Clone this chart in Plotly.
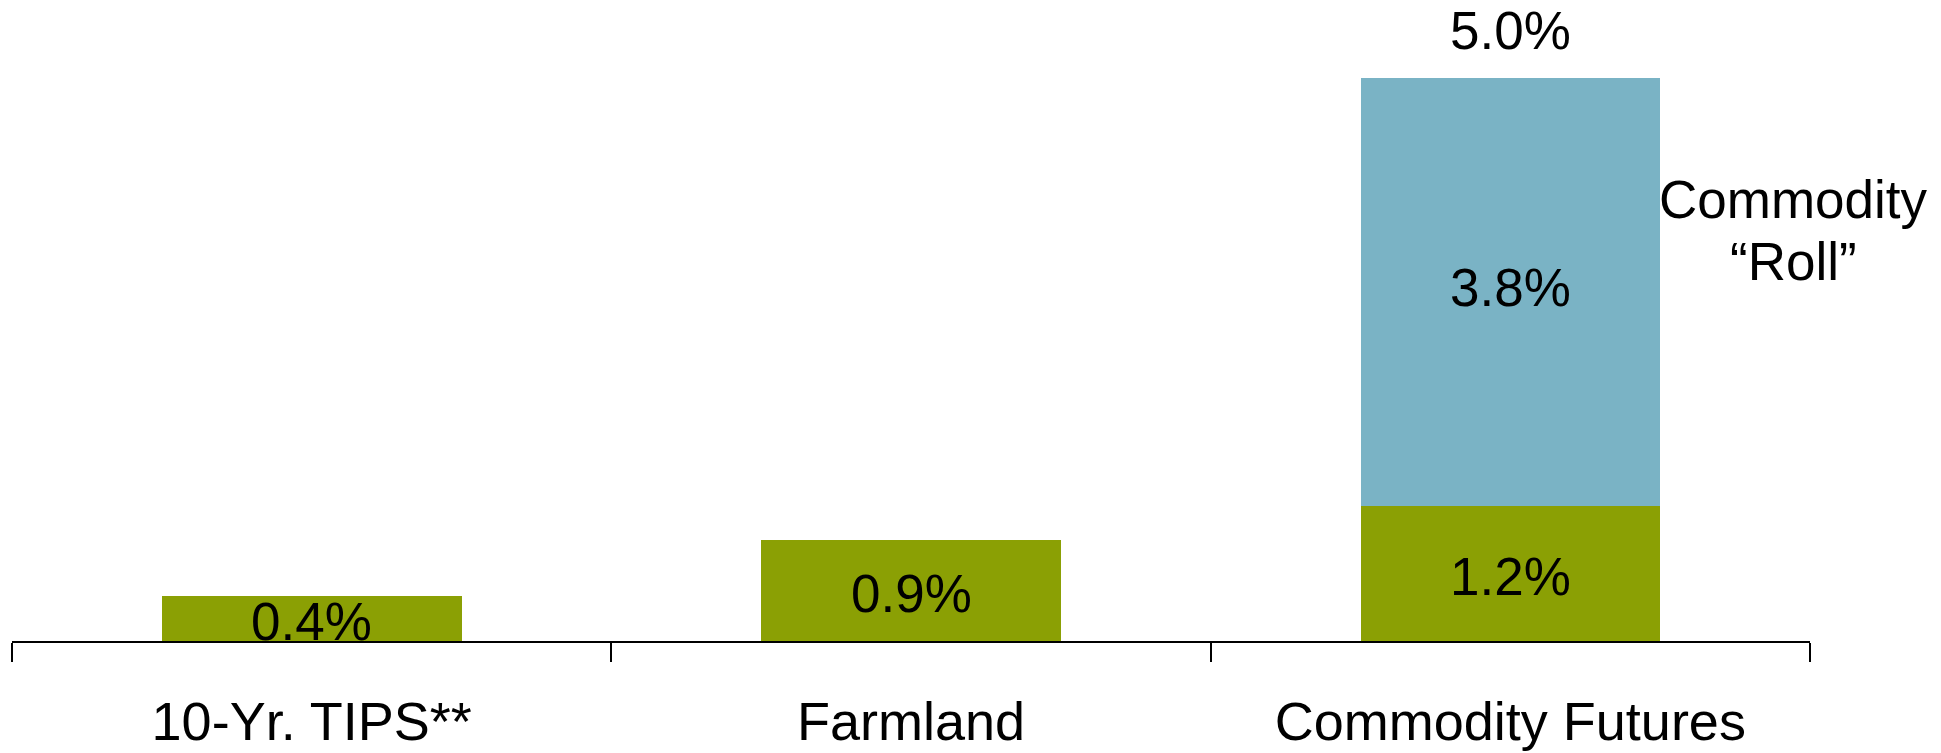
import plotly.graph_objects as go

# Real return components by asset (percent)
categories = ["10-Yr. TIPS**", "Farmland", "Commodity Futures"]
base_return = [0.4, 0.9, 1.2]
roll_return = [None, None, 3.8]
total_label_value = 5.0

GREEN = "#8BA004"
BLUE = "#7AB3C5"
FONT = "Liberation Sans, Arial, sans-serif"

fig = go.Figure()
fig.add_trace(go.Bar(x=categories, y=base_return, width=0.5,
                     marker=dict(color=GREEN, line=dict(width=0)),
                     hoverinfo="skip"))
fig.add_trace(go.Bar(x=categories, y=roll_return, width=0.5,
                     marker=dict(color=BLUE, line=dict(width=0)),
                     hoverinfo="skip"))

annotations = []
# Segment value labels centred in each block
for cat, b, r in zip(categories, base_return, roll_return):
    annotations.append(dict(x=cat, y=b / 2, text=f"{b:.1f}%", showarrow=False,
                            xanchor="center", yanchor="middle", yshift=-3,
                            font=dict(size=53, color="black", family=FONT)))
    if r:
        annotations.append(dict(x=cat, y=b + r / 2, text=f"{r:.1f}%", showarrow=False,
                                xanchor="center", yanchor="middle", yshift=4,
                                font=dict(size=53, color="black", family=FONT)))

# Total on top of the stacked bar
annotations.append(dict(x=categories[2], y=total_label_value, text=f"{total_label_value:.1f}%",
                        showarrow=False, xanchor="center", yanchor="bottom", yshift=16,
                        font=dict(size=53, color="black", family=FONT)))

# Label for the roll component
annotations.append(dict(x=2.473, y=3.92, text="Commodity", showarrow=False,
                        xanchor="center", yanchor="middle",
                        font=dict(size=53, color="black", family=FONT)))
annotations.append(dict(x=2.473, y=3.37, text="\u201cRoll\u201d", showarrow=False,
                        xanchor="center", yanchor="middle",
                        font=dict(size=53, color="black", family=FONT)))

fig.update_layout(
    width=1941, height=753,
    margin=dict(l=12, r=131, t=0, b=112),
    barmode="stack", bargap=0.5,
    showlegend=False,
    plot_bgcolor="white", paper_bgcolor="white",
    annotations=annotations,
    xaxis=dict(type="category", range=[-0.5, 2.5],
               showline=True, linecolor="black", linewidth=2,
               ticks="outside", tickson="boundaries", ticklen=19,
               tickcolor="black", tickwidth=1.5,
               showgrid=False, zeroline=False,
               tickfont=dict(size=54, color="black", family=FONT),
               ticklabelstandoff=32),
    yaxis=dict(range=[0, 5.693], visible=False, showgrid=False, zeroline=False),
)

fig.write_html("out.html")
